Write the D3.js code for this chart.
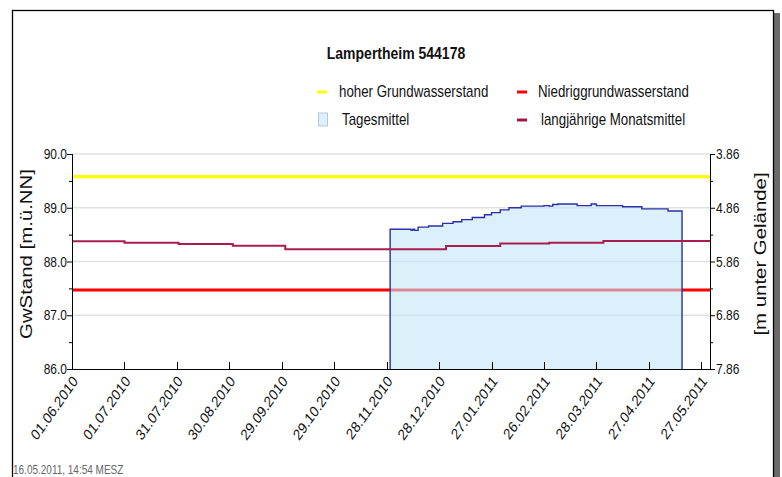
<!DOCTYPE html>
<html><head><meta charset="utf-8">
<script src="https://cdn.jsdelivr.net/npm/d3@7"></script>
<style>body{margin:0;background:#fff;} svg{display:block;font-family:"Liberation Sans",Arial,sans-serif;}</style>
</head><body><svg id="c" width="782" height="477"></svg>
<script>
const chartTitle = "Lampertheim 544178";
const leftTitle = "GwStand [m.ü.NN]";
const rightTitle = "[m unter Gelände]";
const stamp = "16.05.2011, 14:54 MESZ";
const xTickLabels = ["01.06.2010","01.07.2010","31.07.2010","30.08.2010","29.09.2010","29.10.2010","28.11.2010","28.12.2010","27.01.2011","26.02.2011","28.03.2011","27.04.2011","27.05.2011"];
const xDomain = ["01.06.2010","01.06.2011"];
const yTicks = [86, 87, 88, 89, 90];
const yMinor = [86.5, 87.5, 88.5, 89.5];
const rightTicks = [3.86, 4.86, 5.86, 6.86, 7.86];
const rightMinor = [4.36, 5.36, 6.36, 7.36];
const hoherGW = 89.58;
const niedrigGW = 87.47;
const monthStarts = ["01.06.2010","01.07.2010","01.08.2010","01.09.2010","01.10.2010","01.11.2010","01.12.2010","01.01.2011","01.02.2011","01.03.2011","01.04.2011","01.05.2011","01.06.2011"];
const monthMeans = [88.376, 88.350, 88.326, 88.292, 88.229, 88.229, 88.228, 88.290, 88.333, 88.350, 88.381, 88.381, 88.381];
const dailyDates = ["30.11.2010","12.12.2010","13.12.2010","14.12.2010","16.12.2010","22.12.2010","30.12.2010","05.01.2011","10.01.2011","16.01.2011","23.01.2011","27.01.2011","01.02.2011","06.02.2011","13.02.2011","26.02.2011","01.03.2011","03.03.2011","06.03.2011","17.03.2011","25.03.2011","28.03.2011","12.04.2011","23.04.2011","08.05.2011","16.05.2011"];
const dailyValues = [88.60, 88.58, 88.60, 88.58, 88.64, 88.66, 88.71, 88.74, 88.78, 88.82, 88.87, 88.91, 88.96, 89.00, 89.03, 89.04, 89.03, 89.06, 89.07, 89.04, 89.07, 89.04, 89.02, 88.98, 88.94, 88.94];
const legendItems = [
  {label: "hoher Grundwasserstand", type: "line", color: "#ffff00"},
  {label: "Niedriggrundwasserstand", type: "line", color: "#ff0000"},
  {label: "Tagesmittel", type: "box", color: "#dcf0fc"},
  {label: "langjährige Monatsmittel", type: "line", color: "#a3164a"}
];

const K = 1.2; // vertical stretch of glyphs
const parse = d3.utcParse("%d.%m.%Y");
const svg = d3.select("#c");
const L = 72, R = 710, T = 154, B = 369;

const x = d3.scaleUtc().domain(xDomain.map(parse)).range([L, R]);
const y = d3.scaleLinear().domain([86, 90]).range([B, T]);
const y2 = d3.scaleLinear().domain([7.86, 3.86]).range([B, T]);

// frame
svg.append("rect").attr("x", 774).attr("y", 13).attr("width", 6).attr("height", 470).attr("fill", "#6a6a6a");
svg.append("rect").attr("x", 12.5).attr("y", 10.5).attr("width", 761).attr("height", 480)
  .attr("fill", "none").attr("stroke", "#000").attr("stroke-width", 1.3);

function stext(g, xx, yy, txt, opts) {
  const t = g.append("text").attr("transform", `translate(${xx},${yy}) scale(1,${K})` + (opts.rot ? ` rotate(${opts.rot})` : ""))
    .text(txt).attr("font-size", opts.size).attr("fill", opts.fill || "#111");
  if (opts.anchor) t.attr("text-anchor", opts.anchor);
  if (opts.dy) t.attr("dy", opts.dy);
  if (opts.weight) t.attr("font-weight", opts.weight);
  return t;
}

// title
stext(svg, 396, 59, chartTitle, {size: 14, anchor: "middle", weight: "bold"});

// legend
const legPos = [[317, 92, 339, 97], [517, 92, 538, 97], [318, 120, 342, 125], [517, 120, 541, 125]];
legendItems.forEach((it, i) => {
  const p = legPos[i];
  if (it.type === "line") {
    svg.append("line").attr("x1", p[0]).attr("x2", p[0] + 10).attr("y1", p[1]).attr("y2", p[1])
      .attr("stroke", it.color).attr("stroke-width", 3);
  } else {
    svg.append("rect").attr("x", p[0] + 0.5).attr("y", p[1] - 7).attr("width", 9).attr("height", 13)
      .attr("fill", it.color).attr("stroke", "#b8c8d4").attr("stroke-width", 1);
  }
  stext(svg, p[2], p[3], it.label, {size: 13.3});
});

// grid
svg.append("g").selectAll("line").data(yTicks.slice(1)).join("line")
  .attr("x1", L).attr("x2", R).attr("y1", d => y(d)).attr("y2", d => y(d))
  .attr("stroke", "#e2e2e2").attr("stroke-width", 1.5);

// reference lines
svg.append("line").attr("x1", L).attr("x2", R).attr("y1", y(hoherGW)).attr("y2", y(hoherGW))
  .attr("stroke", "#ffff00").attr("stroke-width", 3.2);
svg.append("line").attr("x1", L).attr("x2", R).attr("y1", y(niedrigGW)).attr("y2", y(niedrigGW))
  .attr("stroke", "#ff0000").attr("stroke-width", 3.2);

// daily means area
const pts = dailyDates.map((d, i) => [parse(d), dailyValues[i]]);
const outline = [[pts[0][0], 86], ...pts, [pts[pts.length - 1][0], 86]];
const line = d3.line().x(d => x(d[0])).y(d => y(d[1])).curve(d3.curveStepAfter);
svg.append("path").attr("d", line(outline)).attr("fill", "#c4e6fa").attr("fill-opacity", 0.6).attr("stroke", "none");
svg.append("path").attr("d", line(outline)).attr("fill", "none").attr("stroke", "#2a2fa6").attr("stroke-width", 1.4);

// monthly means
const mPts = monthStarts.map((d, i) => [parse(d), monthMeans[i]]);
svg.append("path").attr("d", line(mPts)).attr("fill", "none").attr("stroke", "#a81d50").attr("stroke-width", 2);

// axes
const ax = svg.append("g").attr("stroke", "#000").attr("stroke-width", 1);
ax.append("line").attr("x1", L + 0.5).attr("x2", L + 0.5).attr("y1", T).attr("y2", B + 0.5);
ax.append("line").attr("x1", R + 0.5).attr("x2", R + 0.5).attr("y1", T).attr("y2", B + 0.5);
ax.append("line").attr("x1", L).attr("x2", R + 1).attr("y1", B + 0.5).attr("y2", B + 0.5);
yTicks.forEach(v => ax.append("line").attr("x1", L - 5).attr("x2", L).attr("y1", y(v) + 0.5).attr("y2", y(v) + 0.5));
yMinor.forEach(v => ax.append("line").attr("x1", L - 3).attr("x2", L).attr("y1", y(v) + 0.5).attr("y2", y(v) + 0.5));
rightTicks.forEach(v => ax.append("line").attr("x1", R).attr("x2", R + 5).attr("y1", y2(v) + 0.5).attr("y2", y2(v) + 0.5));
rightMinor.forEach(v => ax.append("line").attr("x1", R).attr("x2", R + 3).attr("y1", y2(v) + 0.5).attr("y2", y2(v) + 0.5));
const xTicks = xTickLabels.map(parse).concat([parse(xDomain[1])]);
xTicks.forEach(d => ax.append("line").attr("x1", Math.round(x(d)) + 0.5).attr("x2", Math.round(x(d)) + 0.5).attr("y1", B - 7).attr("y2", B));

const fmt = d3.format(".1f");
yTicks.forEach(v => stext(svg, 67, y(v), fmt(v), {size: 12, anchor: "end", dy: "0.36em"}));
const fmt2 = d3.format(".2f");
rightTicks.forEach(v => stext(svg, 716, y2(v), fmt2(v), {size: 12, anchor: "start", dy: "0.36em"}));
xTickLabels.forEach(s => stext(svg, x(parse(s)) + 3, B + 9, s, {size: 13, anchor: "end", rot: -50, dy: "0.36em"}));

// axis titles
svg.append("text").attr("transform", `translate(32,254) scale(1,${K}) rotate(-90)`).attr("text-anchor", "middle")
  .attr("font-size", 17).attr("fill", "#111").text(leftTitle);
svg.append("text").attr("transform", `translate(766,254) scale(1,${K}) rotate(-90)`).attr("text-anchor", "middle")
  .attr("font-size", 17).attr("fill", "#111").text(rightTitle);

// timestamp
stext(svg, 13, 474, stamp, {size: 10, fill: "#666"});
</script></body></html>
